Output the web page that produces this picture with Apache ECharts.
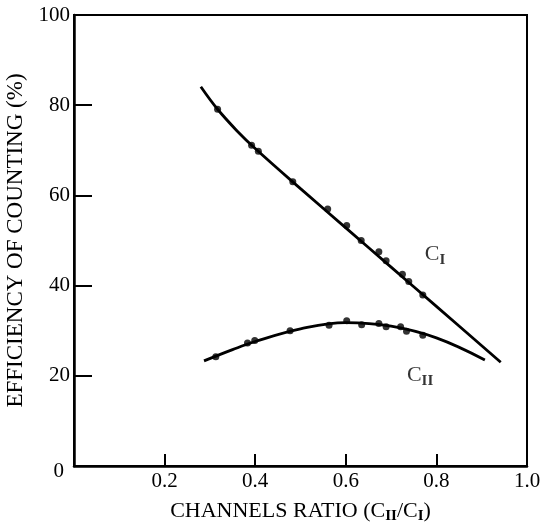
<!DOCTYPE html>
<html>
<head>
<meta charset="utf-8">
<script src="https://cdn.jsdelivr.net/npm/echarts@6/dist/echarts.min.js"></script>
<style>
  html, body { margin: 0; padding: 0; background: #fff; }
  #chart { width: 542px; height: 524px; }
</style>
</head>
<body>
<div id="chart"></div>
<script>
// fitted curves
var ciCurveX = [0.28, 0.317, 0.36, 0.40, 0.50, 0.60, 0.70, 0.80, 0.942];
var ciCurveY = [84.1, 79.1, 74.3, 70.4, 61.5, 52.8, 44.1, 35.4, 23.0];
var ciiCurveX = [0.287, 0.35, 0.40, 0.50, 0.60, 0.70, 0.80, 0.907];
var ciiCurveY = [23.3, 25.8, 27.6, 30.4, 31.8, 31.0, 28.4, 23.5];

// measured points
var ciDotX = [0.317, 0.392, 0.407, 0.483, 0.560, 0.602, 0.634, 0.673, 0.689, 0.725, 0.739, 0.770];
var ciDotY = [79.1, 71.1, 69.8, 63.0, 57.0, 53.3, 50.0, 47.5, 45.5, 42.5, 40.9, 37.9];
var ciiDotX = [0.313, 0.383, 0.399, 0.477, 0.563, 0.602, 0.635, 0.673, 0.689, 0.721, 0.734, 0.770];
var ciiDotY = [24.2, 27.3, 27.8, 30.0, 31.2, 32.2, 31.3, 31.6, 30.9, 30.9, 29.9, 29.0];

// curve labels
var labelX = [0.797, 0.764];
var labelY = [47, 20.2];
var labelSub = ['I', 'II'];

function pairs(xs, ys) {
  var out = [];
  for (var i = 0; i < xs.length; i++) out.push([xs[i], ys[i]]);
  return out;
}

var serif = '"Liberation Serif", "DejaVu Serif", serif';
var myChart = echarts.init(document.getElementById('chart'));

var option = {
  animation: false,
  backgroundColor: '#fff',
  textStyle: { fontFamily: serif, color: '#000' },
  grid: {
    left: 74, right: 15, top: 15, bottom: 58,
    outerBoundsMode: 'none', containLabel: false,
    show: true, borderColor: '#000', borderWidth: 2, backgroundColor: 'transparent'
  },
  xAxis: {
    type: 'value', min: 0, max: 1, interval: 0.2,
    axisLine: { lineStyle: { color: '#000', width: 2.5 } },
    axisTick: { inside: true, length: 12, lineStyle: { color: '#000', width: 2 } },
    splitLine: { show: false },
    axisLabel: {
      color: '#000', fontFamily: serif, fontSize: 21, margin: 5,
      formatter: function (v) { return v === 0 ? '' : v.toFixed(1); }
    },
    name: 'CHANNELS RATIO (C{s|II}/C{s|I})',
    nameLocation: 'middle', nameGap: 33,
    nameTextStyle: {
      color: '#000', fontFamily: serif, fontSize: 22,
      rich: { s: { fontFamily: serif, fontSize: 15, fontWeight: 'bold', padding: [10, 0, 0, 0] } }
    }
  },
  yAxis: {
    type: 'value', min: 0, max: 100, interval: 20,
    axisLine: { lineStyle: { color: '#000', width: 2.5 } },
    axisTick: { inside: true, length: 18, lineStyle: { color: '#000', width: 2 } },
    splitLine: { show: false },
    axisLabel: {
      color: '#000', fontFamily: serif, fontSize: 21, margin: 4,
      formatter: function (v) { return v === 0 ? '{z|0}' : String(v); },
      rich: { z: { fontFamily: serif, fontSize: 21, padding: [10, 6, 0, 0] } }
    },
    name: 'EFFICIENCY OF COUNTING (%)',
    nameLocation: 'middle', nameRotate: 90, nameGap: 43,
    nameTextStyle: { color: '#000', fontFamily: serif, fontSize: 23 }
  },
  series: [
    {
      type: 'line', smooth: 0.4, showSymbol: false, silent: true,
      lineStyle: { color: '#000', width: 2.8 },
      data: pairs(ciCurveX, ciCurveY)
    },
    {
      type: 'line', smooth: 0.4, showSymbol: false, silent: true,
      lineStyle: { color: '#000', width: 2.8 },
      data: pairs(ciiCurveX, ciiCurveY)
    },
    {
      type: 'scatter', symbolSize: 7, itemStyle: { color: '#000' },
      data: pairs(ciDotX, ciDotY)
    },
    {
      type: 'scatter', symbolSize: 7, itemStyle: { color: '#000' },
      data: pairs(ciiDotX, ciiDotY)
    },
    {
      type: 'scatter', symbolSize: 0, silent: true,
      label: {
        show: true, position: 'inside',
        formatter: function (p) { return 'C{s|' + labelSub[p.dataIndex] + '}'; },
        color: '#000', fontFamily: serif, fontSize: 22,
        rich: { s: { fontFamily: serif, fontSize: 15, fontWeight: 'bold', padding: [12, 0, 0, 0] } }
      },
      data: pairs(labelX, labelY)
    }
  ]
};

myChart.setOption(option);
</script>
</body>
</html>
